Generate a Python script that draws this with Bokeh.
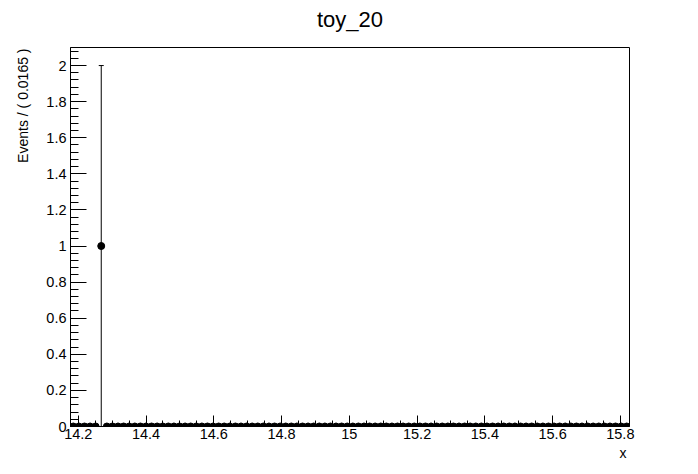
import math
from bokeh.plotting import figure
from bokeh.models import (Range1d, SingleIntervalTicker, CustomJSTickFormatter, Title,
                          ColumnDataSource, LinearAxis, FixedTicker)
from bokeh.embed import file_html
from bokeh.resources import INLINE

# ---- data ----
title_text = "toy_20"
x_label = "x"
y_label = "Events / ( 0.0165 )"
x_min = 14.177
bin_width = 0.0165
n_bins = 100
counts = [0, 0, 0, 0, 0, 1] + [0] * 94
y_max = 2.1

x_max = x_min + n_bins * bin_width
centers = [x_min + (i + 0.5) * bin_width for i in range(n_bins)]
errs = [math.sqrt(c) for c in counts]

W, H = 698, 474
L, R, T, B = 70, 69, 47, 48
font = "Liberation Sans"

p = figure(width=W, height=H, output_backend="svg", toolbar_location=None, title=None,
           x_range=Range1d(x_min, x_max), y_range=Range1d(0, y_max),
           min_border_left=L, min_border_right=R, min_border_top=T, min_border_bottom=B)
p.background_fill_color = "white"
p.border_fill_color = "white"
p.outline_line_color = "black"
p.outline_line_width = 1
p.xgrid.visible = False
p.ygrid.visible = False

xa = p.below[0]
ya = p.left[0]

fmt = CustomJSTickFormatter(code="return String(Number(tick.toFixed(4)));")
xa.ticker = SingleIntervalTicker(interval=0.2, num_minor_ticks=4)
ya.ticker = SingleIntervalTicker(interval=0.2, num_minor_ticks=5)
for ax in (xa, ya):
    ax.formatter = fmt
    ax.axis_line_color = "black"
    ax.major_tick_line_color = "black"
    ax.minor_tick_line_color = "black"
    ax.major_tick_out = 0
    ax.minor_tick_out = 0
    ax.major_label_text_font = font
    ax.major_label_text_font_size = "14.5px"
    ax.major_label_text_color = "black"
xa.major_tick_in = 11
xa.minor_tick_in = 6
xa.major_label_standoff = 2
ya.major_tick_in = 16
ya.minor_tick_in = 8
ya.major_label_standoff = 4

# invisible spacer axis between frame and title (one hidden tick, empty label)
spacer = LinearAxis(ticker=FixedTicker(ticks=[(x_min + x_max) / 2], minor_ticks=[]),
                    formatter=CustomJSTickFormatter(code="return '';"),
                    axis_line_color=None, major_tick_line_color=None,
                    minor_tick_line_color=None,
                    major_tick_in=0, major_tick_out=14, minor_tick_in=0, minor_tick_out=0,
                    major_label_standoff=0, major_label_text_font_size="1px")
p.add_layout(spacer, "above")
p.add_layout(Title(text=title_text, align="center", vertical_align="top",
                   text_font=font, text_font_size="22px", text_font_style="normal",
                   text_color="black", standoff=0), "above")

# axis titles (aligned to axis ends, ROOT style)
p.add_layout(Title(text=y_label, align="right", text_font=font, text_font_size="14px",
                   text_font_style="normal", text_color="black", standoff=25,
                   offset=1), "left")
p.add_layout(Title(text=x_label, align="right", text_font=font, text_font_size="14px",
                   text_font_style="normal", text_color="black", standoff=3,
                   offset=3), "below")

# data points
nz_x = [c for c, n in zip(centers, counts) if n > 0]
nz_y = [n for n in counts if n > 0]
nz_e = [e for e, n in zip(errs, counts) if n > 0]
src_err = ColumnDataSource(dict(x=nz_x, lo=[y - e for y, e in zip(nz_y, nz_e)],
                                hi=[y + e for y, e in zip(nz_y, nz_e)]))
p.segment(x0="x", y0="lo", x1="x", y1="hi", source=src_err, line_color="black", line_width=1)
p.scatter(x="x", y="hi", source=src_err, marker="dash", size=5, line_color="black", line_width=1)

p.scatter(x=centers, y=counts, size=7, marker="circle", fill_color="black", line_color="black")

open("out.html", "w").write(file_html(p, INLINE))
